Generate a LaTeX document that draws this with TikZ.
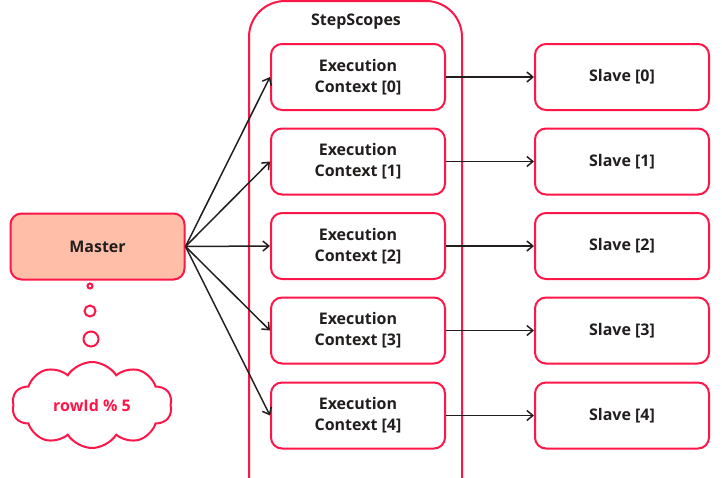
\documentclass[tikz,border=0pt]{standalone}
\usepackage{fontspec}
\setmainfont{Open Sans}
\usetikzlibrary{shapes.symbols,arrows.meta}
\definecolor{bred}{RGB}{255,22,72}
\definecolor{msal}{RGB}{255,190,168}
\definecolor{ink}{RGB}{34,30,30}
\tikzset{
  lbl/.style={font=\fontsize{16}{21}\selectfont\bfseries},
  box/.style={lbl,draw=bred,line width=2pt,rounded corners=11pt,minimum width=174pt,minimum height=66pt,inner sep=0pt,align=center,text=ink},
  conn/.style={draw=ink,line width=1.5pt,-{Straight Barb[length=6pt,width=10pt,line width=1.5pt]}},
  bub/.style={draw=bred,line width=2pt,circle,inner sep=0pt}
}
\begin{document}
\begin{tikzpicture}[x=1pt,y=-1pt]
\useasboundingbox (0,0) rectangle (722,477);
\clip (0,0) rectangle (722,477);
\draw[bred,line width=2pt,rounded corners=36pt] (249,530) -- (249,1) -- (462,1) -- (462,530);
\node[lbl,text=ink] (title) at (356,22) {StepScopes};
\node[box,fill=msal] (master) at (97.5,246.5) {Master};
\foreach \i/\y in {0/77,1/161.5,2/246,3/330.5,4/415.5}{
  \node[box] (ec\i) at (358,\y) {Execution\\Context [\i]};
  \node[box] (sl\i) at (622,\y) {Slave [\i]};
  \draw[conn] (master.east) -- (ec\i.west);
  \draw[conn] (ec\i.east) -- (sl\i.west);
}
\node[bub,minimum size=5pt] (b1) at (90,286) {};
\node[bub,minimum size=11pt] (b2) at (90,311) {};
\node[bub,minimum size=15pt] (b3) at (91,339) {};
\node[cloud,draw=bred,line width=2pt,cloud puffs=10,cloud puff arc=115,minimum width=160pt,minimum height=86pt,aspect=1.9,text=bred,lbl] (cloud) at (92,405) {rowId \% 5};
\end{tikzpicture}
\end{document}
